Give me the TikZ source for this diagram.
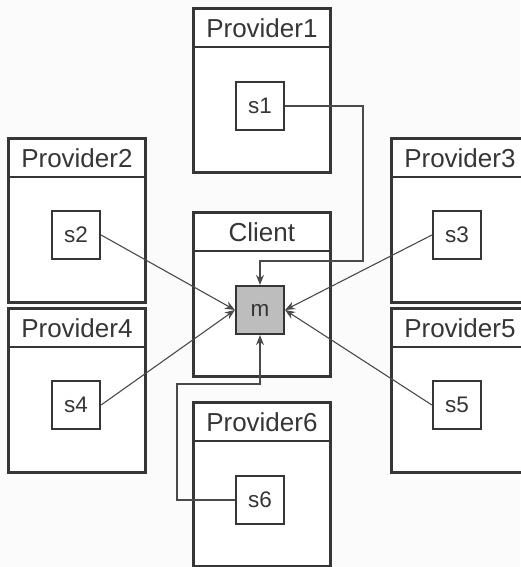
\documentclass[tikz,border=0pt]{standalone}
\usepackage{fontspec}
\setmainfont{Liberation Sans}
\usetikzlibrary{arrows.meta}
\definecolor{bg}{HTML}{FBFBFB}
\definecolor{ink}{HTML}{363636}
\definecolor{wire}{HTML}{4A4A4A}
\definecolor{mfill}{HTML}{BDBDBD}
\begin{document}
\begin{tikzpicture}[x=1pt,y=-1pt,
  provbox/.style={draw=ink,line width=2.8pt,fill=white,minimum width=137pt,minimum height=164pt,inner sep=0pt},
  headtext/.style={font=\fontsize{26}{30}\selectfont,text=ink,inner sep=0pt},
  svcbox/.style={draw=ink,line width=2.2pt,fill=white,minimum width=48pt,minimum height=48pt,inner sep=0pt,font=\fontsize{22.5}{26}\selectfont,text=ink},
  wirestyle/.style={draw=wire,line width=1.1pt},
  arr/.style={wirestyle,-{Stealth[length=10pt,width=8pt]}}]
\fill[bg] (0,0) rectangle (520,567);
\useasboundingbox (0,0) rectangle (520,567);
% provider boxes: top-left corner + size
\newcommand{\provider}[4]{%
  \node[provbox,anchor=north west] (#1) at (#2,#3) {};
  \draw[ink,line width=2pt] ([yshift=-40pt]#1.north west) -- ([yshift=-40pt]#1.north east);
  \node[headtext] (#1h) at ([yshift=-21pt]#1.north) {#4};
}
\provider{p1}{192}{7}{Provider1}
\provider{p2}{7}{137}{Provider2}
\provider{p3}{390}{137}{Provider3}
\provider{cl}{192}{211}{Client}
\provider{p4}{7}{307}{Provider4}
\provider{p5}{390}{307}{Provider5}
\provider{p6}{192}{401}{Provider6}
% services
\node[svcbox] (s1) at (260,106) {s1};
\node[svcbox] (s2) at (76,235) {s2};
\node[svcbox] (s3) at (457,235) {s3};
\node[svcbox] (s4) at (76,405) {s4};
\node[svcbox] (s5) at (457,405) {s5};
\node[svcbox] (s6) at (260,500) {s6};
\node[svcbox,fill=mfill] (m) at (260,310) {m};
% bends
\coordinate (c1) at (363,261);
\coordinate (c6) at (177,384);
% connectors
\draw[arr] (s1.east) -| (c1) -| (m.north);
\draw[arr] (s6.west) -| (c6) -| (m.south);
\draw[arr] (s2.east) -- (m.west);
\draw[arr] (s4.east) -- (m.west);
\draw[arr] (s3.west) -- (m.east);
\draw[arr] (s5.west) -- (m.east);
\end{tikzpicture}
\end{document}
